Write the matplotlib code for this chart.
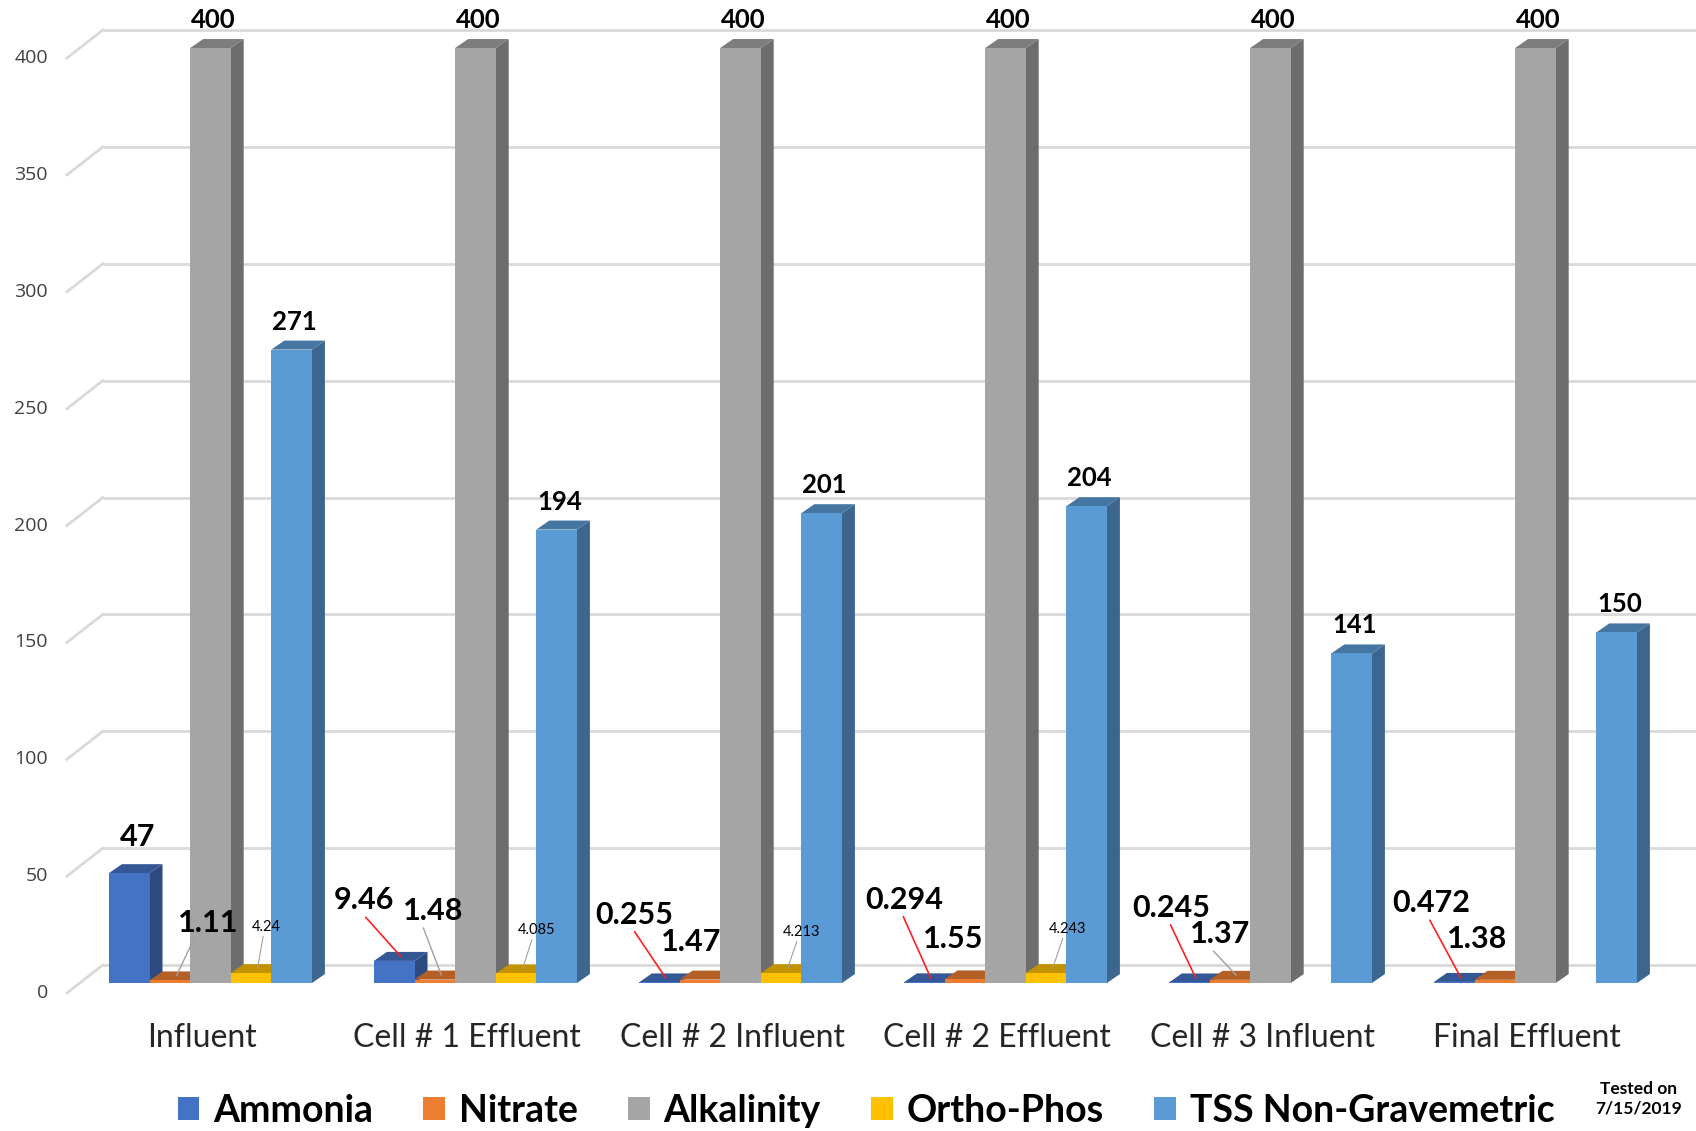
import matplotlib
matplotlib.use('Agg')
import matplotlib.pyplot as plt
from matplotlib.patches import Polygon, Patch
import numpy as np

plt.rcParams['font.family'] = ['Lato', 'DejaVu Sans']

categories = ['Influent', 'Cell # 1 Effluent', 'Cell # 2 Influent',
              'Cell # 2 Effluent', 'Cell # 3 Influent', 'Final Effluent']
ammonia = [47, 9.46, 0.255, 0.294, 0.245, 0.472]
nitrate = [1.11, 1.48, 1.47, 1.55, 1.37, 1.38]
alkalinity = [400, 400, 400, 400, 400, 400]
ortho_phos = [4.24, 4.085, 4.213, 4.243, np.nan, np.nan]
tss = [271, 194, 201, 204, 141, 150]
series_names = ['Ammonia', 'Nitrate', 'Alkalinity', 'Ortho-Phos', 'TSS Non-Gravemetric']
yticks = [0, 50, 100, 150, 200, 250, 300, 350, 400]

series = [ammonia, nitrate, alkalinity, ortho_phos, tss]
colors = ['#4472C4', '#ED7D31', '#A5A5A5', '#FFC000', '#5B9BD5']

W, H = 1696, 1131
fig = plt.figure(figsize=(W / 100, H / 100), dpi=100)
ax = fig.add_axes([0, 0, 1, 1])
xmin, ymin = -0.794, -63.3
ax.set_xlim(xmin, xmin + W / 265)
ax.set_ylim(ymin, ymin + H / 2.3375)
ax.axis('off')

# size of one pixel in data units
PX = 1 / 265
PY = 1 / 2.3375


def shade(c, f):
    r, g, b = matplotlib.colors.to_rgb(c)
    return (r * f, g * f, b * f)


# back wall grid + floor diagonals
wall_x = -0.406
front_x = -0.5415
grid_c = '#d9d9d9'
for v in yticks:
    ax.plot([wall_x, ax.get_xlim()[1]], [v + 18 * PY, v + 18 * PY],
            color=grid_c, lw=2, zorder=1, solid_capstyle='butt')
    ax.plot([front_x, wall_x], [v - 10 * PY, v + 18 * PY],
            color=grid_c, lw=2, zorder=1)
    ax.text(-0.613, v - 10 * PY, str(v), ha='right', va='center',
            fontsize=14, color='#404040', family=['Open Sans', 'DejaVu Sans'])

# 3d-looking bars
width = 40.6 * PX
dx, dy = 13 * PX, 9 * PY
for i in range(len(categories)):
    for j, vals in enumerate(series):
        v = vals[i]
        if np.isnan(v):
            continue
        x0 = i + (j - 2.5) * width
        x1 = x0 + width
        z = 3 + j
        side = [(x1, 0), (x1 + dx, dy), (x1 + dx, v + dy), (x1, v)]
        top = [(x0, v), (x1, v), (x1 + dx, v + dy), (x0 + dx, v + dy)]
        ax.add_patch(Polygon(side, closed=True, fc=shade(colors[j], 0.66),
                             ec='none', zorder=z))
        ax.add_patch(Polygon(top, closed=True, fc=shade(colors[j], 0.76),
                             ec='none', zorder=z))
        ax.bar(x0, v, width, align='edge', color=colors[j], zorder=z + 0.5)


def center(i, j):
    return i + (j - 2) * width


big = dict(fontsize=18.5, fontweight='bold', ha='center', va='center', zorder=20)
for i in range(len(categories)):
    for j in (2, 4):
        ax.annotate(f'{series[j][i]:g}', (center(i, j), series[j][i]),
                    xytext=(3, 28), textcoords='offset pixels', **big)

# ammonia / nitrate / ortho-phos labels sit beside the short bars
amm_off = [(2, 32), (-37, 56), (-31, 63), (-26, 78), (-24, 70), (-30, 74)]
nit_off = [(32, 53), (-8, 64), (-15, 33), (-18, 36), (-16, 41), (-24, 36)]
orth_off = [(9, 42), (14, 39), (14, 37), (15, 40)]
nit_leader = [True, True, False, False, True, False]

mid = dict(fontsize=22, fontweight='bold', ha='center', va='center', zorder=20)
for i in range(len(categories)):
    tip = (center(i, 0) + dx / 2, ammonia[i] + dy / 2)
    arrow = None if i == 0 else dict(arrowstyle='-', color='#ff2020', lw=1.2,
                                     relpos=(0.45, 0.1), shrinkA=0, shrinkB=0)
    ax.annotate(f'{ammonia[i]:g}', tip, xytext=amm_off[i],
                textcoords='offset pixels', arrowprops=arrow, **mid)

    tip = (center(i, 1) + dx / 2, nitrate[i] + dy / 2)
    arrow = dict(arrowstyle='-', color='#a0a0a0', lw=1,
                 relpos=(0.3, 0.1), shrinkA=0, shrinkB=0) if nit_leader[i] else None
    ax.annotate(f'{nitrate[i]:g}', tip, xytext=nit_off[i],
                textcoords='offset pixels', arrowprops=arrow, **mid)

    if not np.isnan(ortho_phos[i]):
        tip = (center(i, 3) + dx / 2, ortho_phos[i] + dy / 2)
        ax.annotate(f'{ortho_phos[i]:g}', tip, xytext=orth_off[i],
                    textcoords='offset pixels', fontsize=10.5, ha='center',
                    va='center', zorder=20,
                    arrowprops=dict(arrowstyle='-', color='#a0a0a0', lw=0.8,
                                    relpos=(0.4, 0), shrinkA=0, shrinkB=0))

for i, name in enumerate(categories):
    ax.text(i - 8 * PX, -23.5, name, ha='center', va='center',
            fontsize=23, color='#262626')

handles = [Patch(facecolor=c, edgecolor='none', label=n)
           for c, n in zip(colors, series_names)]
fig.legend(handles=handles, loc='center', bbox_to_anchor=(866 / W, 20 / H),
           ncol=5, frameon=False,
           prop={'family': 'Lato', 'weight': 'bold', 'size': 27},
           handlelength=0.57, handleheight=0.57, handletextpad=0.37,
           columnspacing=1.35, borderaxespad=0)
fig.text(1639 / W, 32 / H, 'Tested on\n7/15/2019', ha='center', va='center',
         fontsize=12.5, fontweight='bold', linespacing=1.3)

fig.savefig('out.png', dpi=100)
